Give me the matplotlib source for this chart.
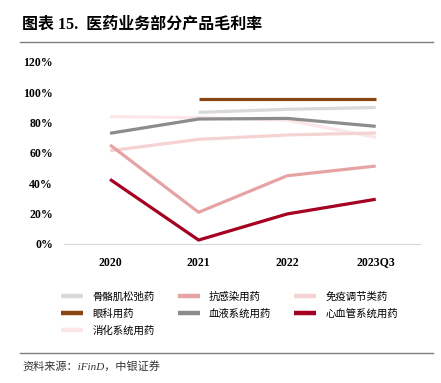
import numpy as np
import matplotlib.pyplot as plt

plt.rcParams['font.family'] = ['Liberation Serif', 'Noto Sans CJK SC']

periods = ['2020', '2021', '2022', '2023Q3']

names = ['骨骼肌松弛药', '抗感染用药', '免疫调节类药',
         '眼科用药', '血液系统用药', '心血管系统用药',
         '消化系统用药']
colors = ['#d9d9d9', '#e6a3a3', '#f5d3d3',
          '#8b4513', '#8c8c8c', '#a50021',
          '#fbe7e7']

muscle = [np.nan, 86.8, 88.8, 90.0]
anti_inf = [65.3, 20.9, 45.0, 51.4]
immune = [61.5, 69.0, 71.9, 73.2]
eye = [np.nan, 95.6, 95.6, 95.6]
blood = [73.0, 82.4, 82.8, 77.6]
cardio = [42.6, 2.6, 19.8, 29.5]
digest = [84.0, 83.3, 81.7, 70.3]

series = [muscle, anti_inf, immune, eye, blood, cardio, digest]
# draw order so darker lines sit on top
order = [6, 2, 0, 1, 4, 3, 5]

fig = plt.figure(figsize=(4.41, 3.83), dpi=100)
ax = fig.add_axes([64 / 441, 1 - 244 / 383, 356 / 441, 182 / 383])

x = np.arange(len(periods))
handles = {}
for i in order:
    (ln,) = ax.plot(x, series[i], color=colors[i], lw=2.3, solid_capstyle='butt', label=names[i])
    handles[i] = ln

ax.set_xlim(-0.52, 3.5)
ax.set_ylim(0, 120)
ax.set_yticks(np.arange(0, 121, 20))
ax.set_yticklabels([f'{v}%' for v in range(0, 121, 20)], fontsize=8.5, fontweight='bold')
ax.set_xticks(x)
ax.set_xticklabels(periods, fontsize=8.5, fontweight='bold')
for s in ['top', 'right', 'left']:
    ax.spines[s].set_visible(False)
ax.spines['bottom'].set_color('#d9d9d9')
ax.tick_params(length=0, pad=8)
ax.tick_params(axis='x', pad=9)

# legend fills column-wise: reorder so rows read like the reference
leg_idx = [0, 3, 6, 1, 4, 2, 5]
leg = fig.legend([handles[i] for i in leg_idx], [names[i] for i in leg_idx], ncol=3,
                 loc='upper left', bbox_to_anchor=(52 / 441, 1 - 282 / 383),
                 frameon=False, handlelength=2.1, columnspacing=2.2,
                 labelspacing=0.65, handletextpad=0.9,
                 prop={'family': ['Noto Sans CJK SC'], 'size': 7.5})
for h in leg.legend_handles:
    h.set_linewidth(3.2)

fig.text(22 / 441, 1 - 25 / 383, '图表 15.  医药业务部分产品毛利率', fontsize=11.5,
         fontweight='bold', va='center', ha='left')
fig.add_artist(plt.Line2D([20 / 441, 433 / 441], [1 - 42 / 383] * 2, color='#7f7f7f', lw=1.0))
fig.add_artist(plt.Line2D([20 / 441, 433 / 441], [1 - 353 / 383] * 2, color='#7f7f7f', lw=1.0))
fig.text(22 / 441, 1 - 366 / 383, '资料来源：iFinD，中银证券', fontsize=8,
         style='italic', va='center', ha='left', color='#333333')

fig.savefig('out.png', dpi=100)
